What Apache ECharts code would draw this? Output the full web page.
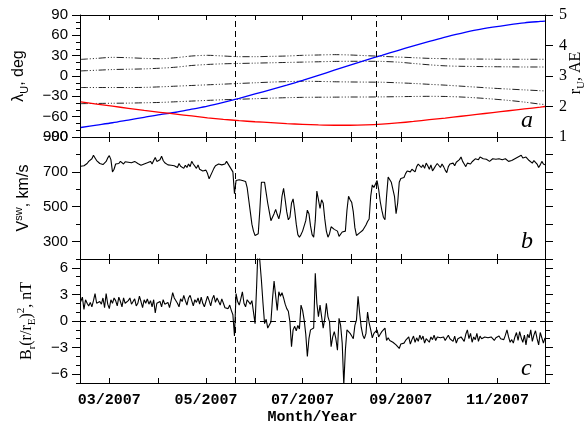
<!DOCTYPE html>
<html>
<head>
<meta charset="utf-8">
<script src="https://cdn.jsdelivr.net/npm/echarts@6.0.0/dist/echarts.min.js"></script>
<style>
	html, body { margin: 0; padding: 0; background: #fff; }
	#chart { width: 587px; height: 425px; }
</style>
</head>
<body>
<div id="chart"></div>
<script>
// all x values are day of year 2007

// panel a: orbit, sampled every 10 days
var orbitDays = [42, 52, 62, 72, 82, 92, 102, 112, 122, 132, 142, 152, 162, 172, 182, 192, 202, 212, 222, 232, 242, 252, 262, 272, 282, 292, 302, 312, 322, 332, 335];
var latitude = [-76, -72.5, -69, -65, -61, -57, -53.5, -49, -44.5, -39, -33, -26.5, -20, -13.5, -6.5, 1, 8.5, 16, 23.5, 30.5, 37.5, 44.5, 51, 57.5, 63, 68, 72, 75.5, 78.5, 80.5, 81];
var distance = [2.15, 2.08, 2.01, 1.94, 1.87, 1.81, 1.75, 1.69, 1.63, 1.58, 1.535, 1.50, 1.47, 1.44, 1.415, 1.395, 1.385, 1.385, 1.395, 1.42, 1.46, 1.51, 1.57, 1.62, 1.68, 1.74, 1.80, 1.86, 1.92, 1.98, 2.0];
var dashLat1 = [24.5, 26, 27.5, 27, 26, 25.5, 27, 29.5, 30.5, 29.5, 28.5, 28.5, 29, 29.5, 30.5, 31, 31.5, 31, 30, 29, 28, 27, 26, 25.5, 25, 25, 24.8, 24.7, 24.7, 24.7, 24.7];
var dashLat2 = [7.5, 8.5, 9.5, 10, 10.5, 11.5, 13, 15.5, 17, 18, 18.5, 19, 19.5, 20, 20.5, 21, 21.5, 21.7, 21.7, 21.5, 20.5, 18.5, 16.5, 15, 14.3, 14, 13.7, 13.5, 13.3, 13.3, 13.3];
var dashLat3 = [-17, -17, -17, -17, -16.8, -16, -15, -14, -13, -12, -11, -10, -9, -8.3, -7.8, -8, -8.5, -8.8, -9, -9.2, -10, -11, -12.3, -13.5, -15, -16.5, -18, -19.3, -20.5, -21.7, -22];
var dashLat4 = [-40.8, -40.5, -40.2, -40, -39.5, -39, -38, -37, -36, -35, -34.3, -33.5, -32.7, -32, -31.5, -31.3, -31.2, -31, -31, -30.8, -30.5, -30.2, -30, -30.2, -31, -32.3, -34, -36, -38.5, -41.5, -42];

// panels b, c: daily values starting on day 42
var dailyStart = 42;
var vsw = [
	732, 728, 735, 725, 748, 760, 755, 775, 795, 780,
	765, 758, 748, 745, 742, 750, 760, 780, 793, 770,
	700, 715, 745, 755, 748, 760, 752, 745, 758, 750,
	755, 748, 752, 745, 760, 750, 748, 742, 738, 745,
	745, 740, 752, 748, 760, 745, 765, 782, 760, 750,
	770, 790, 765, 752, 748, 740, 745, 738, 748, 735,
	742, 725, 748, 732, 740, 720, 738, 725, 745, 730,
	760, 745, 735, 720, 740, 715, 720, 705, 700, 710,
	690, 660, 665, 700, 720, 735, 730, 745, 750, 740,
	735, 745, 760, 750, 730, 740, 700, 575, 650, 640,
	655, 645, 650, 655, 645, 610, 540, 470, 400, 360,
	335, 325, 345, 480, 640, 645, 640, 635, 520, 470,
	420, 415, 460, 485, 455, 430, 470, 560, 605, 540,
	470, 425, 440, 520, 545, 480, 400, 340, 325, 340,
	360, 365, 420, 480, 460, 390, 340, 325, 420, 590,
	540, 490, 540, 520, 430, 360, 325, 345, 385, 380,
	370, 378, 360, 330, 335, 355, 365, 360, 480, 560,
	540, 525, 470, 380, 335, 340, 350, 355, 365, 375,
	395, 415, 430, 560, 625, 610, 600, 650, 600, 530,
	480, 440, 425, 560, 670, 660, 640, 630, 560, 460,
	520, 640, 662, 670, 668, 690, 705, 710, 700, 715,
	720, 700, 730, 745, 740, 725, 740, 720, 750, 735,
	715, 740, 705, 720, 735, 748, 740, 725, 745, 730,
	710, 695, 730, 745, 740, 750, 735, 755, 765, 770,
	785, 760, 745, 730, 750, 760, 745, 758, 765, 775,
	780, 770, 785, 790, 775, 770, 772, 768, 760, 770,
	775, 768, 772, 780, 775, 765, 770, 762, 775, 768,
	760, 750, 765, 770, 775, 780, 785, 790, 795, 780,
	770, 785, 775, 765, 770, 750, 765, 760, 745, 725,
	740, 760, 745, 740
];
var brNorm = [
	2.2, 2.7, 1.3, 2.4, 2.0, 1.7, 2.1, 1.6, 2.3, 3.1,
	2.0, 1.8, 2.2, 1.9, 2.6, 1.5, 3.1, 1.9, 1.4, 2.4,
	2.0, 2.6, 2.3, 1.7, 2.7, 2.2, 1.6, 2.6, 2.0, 1.8,
	2.3, 2.6, 1.9, 2.2, 2.5, 1.7, 2.0, 2.8, 2.2, 1.5,
	2.4, 2.0, 2.5, 1.9, 2.3, 1.6, 2.4, 0.9, 2.0, 1.8,
	2.2, 1.6, 2.4, 1.9, 1.7, 2.1, 1.5, 2.3, 3.2, 2.6,
	2.8, 2.0, 1.6, 2.5, 2.2, 2.9, 2.3, 1.8, 2.6, 2.9,
	2.3, 1.7, 2.4, 2.1, 2.6, 1.9, 2.7, 2.0, 1.6, 2.2,
	2.8, 2.3, 1.7, 2.5, 2.9, 2.1, 2.6, 2.2, 1.8, 2.5,
	2.0, 1.5, 1.7, 1.4, 1.8, 1.2, 0.7, -1.7, 3.1, 2.2,
	1.8, 2.5, 3.3, 2.0, 1.6, 2.4, 2.2, 1.9, 2.3, 1.0,
	-0.3, 4.0, 9, 9, 4.6, 2.0, -0.3, 0.2, -0.8, -0.6,
	-0.1, 2.5, 4.5, 4.7, 1.2, 3.3, 2.8, 3.2, 2.6, 1.9,
	1.4, 1.1, -0.1, -2.9, -1.0, -0.6, -1.1, -0.5, -0.9, 1.8,
	1.2, 0.1, -1.5, -4.0, -2.0, -1.0, -0.9, -0.8, 5.4, 2.0,
	0.5, 1.8, 0.5, -0.8, 0.3, 2.0, 0.5, -0.1, -2.9, -1.8,
	-1.2, -2.0, -3.3, 0.3, -0.5, -2.5, -7.2, -3.3, -1.0, -1.2,
	-1.4, -1.7, -2.0, -0.5, 0.1, 2.8, 0.9, -0.7, -1.6, -2.0,
	-1.4, 1.0, -0.2, -1.0, -1.9, -1.4, -1.2, -1.0, -1.8, -1.5,
	-1.2, -1.3, -0.8, -2.2, -1.9, -2.2, -2.0, -2.4, -2.5, -2.7,
	-2.9, -3.1, -2.6, -2.8, -2.5, -2.2, -2.4, -1.8, -2.6, -2.1,
	-1.7, -2.4, -1.9, -2.3, -1.6, -2.1, -1.7, -2.5, -2.0, -2.2,
	-2.4, -1.8, -2.1, -1.6, -2.2, -1.8, -2.0, -1.9, -2.1, -1.8,
	-2.2, -1.9, -1.6, -2.0, -1.9, -2.3, -1.7, -2.5, -2.0, -2.2,
	-1.8, -2.0, -2.3, -1.5, -1.0, -2.0, -1.4, -2.4, -1.8, -2.1,
	-1.4, -2.3, -1.7, -2.0, -2.2, -1.8, -2.0, -1.9, -2.1, -1.8,
	-2.0, -2.2, -1.9, -2.1, -1.7, -2.0, -1.9, -2.1, -1.6, -1.0,
	-1.8, -2.4, -2.1, -2.5, -1.8, -1.3, -2.2, -1.2, -1.9, -2.4,
	-1.6, -2.7, -1.5, -1.9, -1.0, -2.3, -1.6, -1.1, -2.0, -2.7,
	-1.3, -1.5, -2.5, -1.9
];

// dashed boundaries, month ticks
var boundaryDays = [139.4, 228.8];
var monthTickDays = [60, 91, 121, 152, 182, 213, 244, 274, 305];
var monthLabelDays = [60, 121, 182, 244, 305];
var monthLabels = ['03/2007', '05/2007', '07/2007', '09/2007', '11/2007'];
var latLabels = [-90, -60, -30, 0, 30, 60, 90];
var vswLabels = [300, 500, 700, 900];
var brLabels = [-6, -3, 0, 3, 6];

var myChart = echarts.init(document.getElementById('chart'));

function pairs(days, vals) {
	return vals.map(function(v, i) { return [days[i], v]; });
}
function daily(vals) {
	return vals.map(function(v, i) { return [dailyStart + i, v]; });
}
function minus(v) {
	return String(v).replace('-', '\u2212');
}
function rich(family, size) {
	return {
		m: { fontFamily: family, fontSize: size, color: '#000', lineHeight: 22 },
		s: { fontFamily: family, fontSize: size - 5, color: '#000', verticalAlign: 'bottom', lineHeight: 12 },
		p: { fontFamily: family, fontSize: size - 5, color: '#000', verticalAlign: 'top', lineHeight: 12 }
	};
}

var black = '#000';
var sans = 'Liberation Sans';
var serif = 'Liberation Serif';

function xAxis(grid, pos, withLabels) {
	return {
		type: 'value',
		gridIndex: grid,
		position: pos,
		min: 41.5,
		max: 335,
		axisLine: { show: true, onZero: false, lineStyle: { color: black, width: 1 } },
		axisTick: { show: true, inside: true, length: 5, customValues: monthTickDays, lineStyle: { color: black } },
		axisLabel: {
			show: withLabels,
			customValues: monthLabelDays,
			margin: 10,
			color: black,
			fontFamily: 'Liberation Mono',
			fontWeight: 'bold',
			fontSize: 15,
			formatter: function(v) { return monthLabels[monthLabelDays.indexOf(v)] || ''; }
		},
		splitLine: { show: false },
		name: withLabels ? 'Month/Year' : '',
		nameLocation: 'middle',
		nameGap: 27,
		nameMoveOverlap: false,
		nameTextStyle: { fontFamily: 'Liberation Mono', fontWeight: 'bold', fontSize: 15, color: black }
	};
}

// one y axis: ticks at opt.ticks (or every opt.interval), labels optional
function yAxis(grid, pos, min, max, opt) {
	return {
		type: 'value',
		gridIndex: grid,
		position: pos,
		min: min,
		max: max,
		interval: opt.interval,
		axisLine: { show: opt.line !== false, onZero: false, lineStyle: { color: black, width: 1 } },
		axisTick: { show: true, length: opt.tick || 4, customValues: opt.ticks, lineStyle: { color: black } },
		axisLabel: {
			show: !!opt.labels,
			customValues: opt.labels,
			showMinLabel: true,
			showMaxLabel: true,
			margin: opt.margin || 12,
			color: black,
			fontFamily: opt.font || sans,
			fontSize: opt.fontSize || 15,
			formatter: minus
		},
		splitLine: { show: false },
		name: opt.name || '',
		nameLocation: 'middle',
		nameRotate: 90,
		nameGap: opt.nameGap || 40,
		nameMoveOverlap: false,
		nameTextStyle: { rich: opt.rich }
	};
}

var vLine = { type: [6, 4], color: black, width: 1 };
function boundaries(extra) {
	var d = boundaryDays.map(function(x) { return { xAxis: x }; });
	return {
		silent: true,
		symbol: 'none',
		label: { show: false },
		lineStyle: vLine,
		data: d.concat(extra || [])
	};
}

var dashDot = { type: [7, 2, 1, 2, 1, 2, 1, 2], color: '#222', width: 1 };
function latLine(vals) {
	return {
		type: 'line', xAxisIndex: 0, yAxisIndex: 0, data: pairs(orbitDays, vals),
		showSymbol: false, smooth: 0.3, lineStyle: dashDot
	};
}

function grid(top, height) {
	return { left: 80, right: 42, top: top, height: height, containLabel: false, outerBoundsMode: 'none' };
}

function panelLetter(ch, top) {
	return { type: 'text', left: 521, top: top, style: { text: ch, font: 'italic 24px "Liberation Serif"', fill: black } };
}

var option = {
	animation: false,
	backgroundColor: '#fff',
	grid: [grid(15, 122), grid(137, 122), grid(259, 124)],
	xAxis: [
		xAxis(0, 'bottom', false), xAxis(0, 'top', false),
		xAxis(1, 'bottom', false), xAxis(1, 'top', false),
		xAxis(2, 'bottom', true), xAxis(2, 'top', false)
	],
	yAxis: [
		yAxis(0, 'left', -90, 90, { interval: 10, tick: 4, line: true }),
		yAxis(0, 'right', 1, 5, { interval: 1, tick: 8, labels: [1, 2, 3, 4, 5], font: serif, fontSize: 16, margin: 14 }),
		yAxis(0, 'left', -90, 90, { ticks: latLabels, labels: latLabels, tick: 8, line: false,
			name: '{m|λ}{s|U}{m|, deg}', rich: rich(sans, 16), nameGap: 50 }),
		yAxis(1, 'left', 200, 900, { interval: 100, tick: 4 }),
		yAxis(1, 'left', 200, 900, { ticks: vswLabels, labels: vswLabels, tick: 8, line: false,
			name: '{m|V}{p|sw}{m|, km/s}', rich: rich(sans, 16), nameGap: 45 }),
		yAxis(1, 'right', 200, 900, { interval: 100, tick: 8 }),
		yAxis(2, 'left', -7, 7, { interval: 1, tick: 4 }),
		yAxis(2, 'left', -7, 7, { ticks: brLabels, labels: brLabels, tick: 8, line: false,
			name: '{m|B}{s|r}{m|(r/r}{s|E}{m|)}{p|2}{m|, nT}', rich: rich(serif, 16), nameGap: 42 }),
		yAxis(2, 'right', -7, 7, { interval: 1, tick: 5 }),
		yAxis(2, 'right', -7, 7, { ticks: brLabels, tick: 8, line: false })
	],
	series: [
		latLine(dashLat1), latLine(dashLat2), latLine(dashLat3), latLine(dashLat4),
		{
			type: 'line', xAxisIndex: 0, yAxisIndex: 0, data: pairs(orbitDays, latitude),
			showSymbol: false, smooth: 0.3, lineStyle: { color: '#0000ff', width: 1.3 },
			markLine: boundaries()
		},
		{
			type: 'line', xAxisIndex: 0, yAxisIndex: 1, data: pairs(orbitDays, distance),
			showSymbol: false, smooth: 0.3, lineStyle: { color: '#ff0000', width: 1.3 }
		},
		{
			type: 'line', xAxisIndex: 2, yAxisIndex: 3, data: daily(vsw),
			showSymbol: false, lineStyle: { color: black, width: 1.1 },
			markLine: boundaries()
		},
		{
			type: 'line', xAxisIndex: 4, yAxisIndex: 6, data: daily(brNorm),
			showSymbol: false, clip: true, lineStyle: { color: black, width: 1.1 },
			markLine: boundaries([{ yAxis: 0 }])
		}
	],
	graphic: [
		panelLetter('a', 109), panelLetter('b', 230), panelLetter('c', 357),
		{
			// right axis title of panel a, reads bottom to top
			type: 'text', x: 576, y: 73, rotation: Math.PI / 2,
			style: { text: '{m|r}{s|U}{m|, AE}', rich: rich(serif, 16), align: 'center', verticalAlign: 'middle' }
		}
	]
};

myChart.setOption(option);
</script>
</body>
</html>
